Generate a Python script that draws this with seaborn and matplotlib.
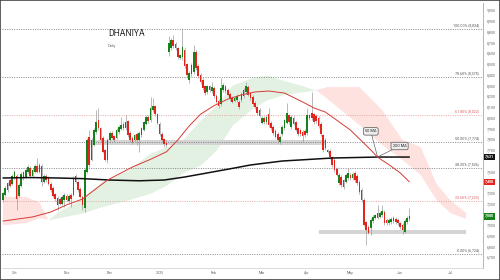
import matplotlib
matplotlib.use("Agg")
import matplotlib.pyplot as plt
import matplotlib.transforms as mtrans
from matplotlib.patches import Rectangle
import seaborn as sns
import numpy as np
import pandas as pd

# ---------------- data ----------------
opens = [7230,7280,7325,7415,7380,7435,7455,7270,7360,7490,
         7445,7490,7530,7455,7490,7550,7490,7550,7400,7455,
         7435,7380,7345,7285,7185,7240,7195,7230,7270,7220,
         7280,7280,7455,7400,7335,7260,7155,7490,7820,7605,
         7745,7865,7975,7900,7810,7695,7605,7790,7855,7825,
         7810,7865,7890,7940,7900,7965,7855,7810,7790,7845,
         7790,7835,7885,7940,8005,7975,8070,8105,8030,7940,
         7850,7795,7760,8610,8645,8720,8685,8645,8555,8560,
         8630,8495,8350,8405,8420,8610,8480,8395,8350,8290,
         8235,8290,8245,8275,8200,8155,8125,8255,8290,8255,
         8220,8180,8155,8160,8145,8160,8200,8235,8285,8225,
         8190,8135,8095,8070,7950,7995,7955,8030,7950,7910,
         7875,7845,7770,7845,7900,7950,8020,7910,7995,7955,
         7900,7885,7865,7875,7855,8020,8040,8030,8015,7995,
         7940,7835,7790,7680,7690,7630,7605,7520,7390,7445,
         7415,7400,7435,7465,7435,7485,7455,7400,7325,7230,
         7025,6980,6970,7035,7065,7110,7075,7090,7120,7045,
         7015,7025,7035,7055,7045,7015,7000,6935,7025,7055]
highs = [7310,7360,7400,7430,7470,7510,7470,7385,7490,7505,
         7525,7560,7545,7525,7565,7620,7575,7565,7470,7470,
         7450,7395,7360,7300,7265,7255,7275,7295,7285,7285,
         7295,7450,7470,7415,7350,7275,7525,7805,7885,7805,
         7900,8070,8090,7915,7825,7710,7805,7870,7870,7840,
         7900,7925,8005,7955,8020,7980,7870,7825,7850,7860,
         7870,7915,7970,8020,8020,8190,8180,8120,8045,7955,
         7865,7810,7790,8760,8740,8765,8700,8660,8595,8830,
         8645,8510,8430,8505,8675,8625,8495,8410,8365,8305,
         8305,8305,8330,8290,8215,8170,8365,8320,8305,8270,
         8235,8195,8195,8215,8160,8235,8270,8330,8300,8240,
         8205,8150,8110,8085,8010,8010,8020,8090,7965,7925,
         7890,7860,7835,7925,7990,8135,8035,8020,8010,7970,
         7915,7900,7880,7890,8090,8035,8235,8045,8030,8010,
         7955,7850,7805,7710,7705,7645,7620,7535,7480,7460,
         7430,7480,7530,7480,7490,7500,7470,7415,7340,7245,
         7040,6995,7060,7090,7105,7185,7125,7185,7135,7060,
         7060,7070,7080,7070,7060,7030,7015,7050,7080,7160]
lows = [7215,7270,7310,7350,7370,7425,7140,7255,7350,7420,
        7435,7480,7440,7445,7480,7480,7480,7360,7385,7400,
        7370,7310,7255,7225,7140,7180,7185,7165,7215,7205,
        7165,7265,7385,7310,7245,7140,7120,7480,7540,7590,
        7730,7850,7885,7775,7665,7590,7575,7775,7795,7775,
        7795,7850,7880,7885,7885,7820,7775,7755,7775,7745,
        7680,7820,7870,7925,7950,7960,8055,8015,7935,7830,
        7775,7720,7720,8570,8630,8650,8630,8545,8540,8535,
        8465,8380,8320,8390,8405,8445,8370,8315,8260,8210,
        8220,8240,8230,8185,8130,8090,8110,8240,8230,8195,
        8155,8130,8140,8145,8080,8145,8185,8220,8195,8165,
        8110,8080,8025,8000,7935,7940,7940,7915,7885,7840,
        7805,7760,7755,7830,7885,7935,7940,7895,7925,7870,
        7830,7830,7770,7820,7840,7980,7980,7940,7950,7905,
        7830,7680,7700,7665,7615,7540,7495,7450,7375,7355,
        7335,7385,7420,7420,7420,7400,7375,7290,7215,6985,
        6810,6910,6905,7020,7050,7050,7060,7075,7000,7000,
        7000,7010,7020,7010,7000,6965,6915,6920,7010,7040]
closes = [7295,7345,7390,7360,7455,7490,7240,7370,7475,7435,
          7510,7540,7455,7510,7550,7490,7555,7400,7455,7415,
          7380,7325,7270,7240,7250,7195,7260,7280,7230,7270,
          7240,7435,7400,7325,7260,7185,7510,7790,7555,7790,
          7885,7955,7900,7790,7680,7605,7790,7855,7810,7790,
          7885,7910,7930,7900,7955,7835,7790,7770,7835,7790,
          7855,7900,7955,8005,7965,8090,8105,8030,7950,7845,
          7790,7750,7745,8695,8720,8665,8645,8560,8580,8655,
          8480,8395,8415,8490,8610,8460,8385,8330,8275,8225,
          8290,8255,8285,8200,8145,8105,8275,8300,8245,8210,
          8170,8145,8180,8200,8095,8220,8255,8290,8210,8180,
          8125,8095,8040,8015,7995,7955,8005,7930,7900,7855,
          7820,7790,7820,7910,7975,8040,7955,8005,7940,7885,
          7845,7845,7825,7835,8020,7995,7995,7955,7965,7920,
          7845,7695,7715,7695,7630,7555,7510,7465,7465,7370,
          7350,7465,7485,7435,7475,7415,7390,7305,7230,7000,
          6950,6925,7045,7075,7090,7065,7110,7130,7015,7015,
          7045,7055,7065,7025,7015,6980,6950,7035,7065,7080]

ma50_idx = [0, 13, 21, 28, 35, 46, 57, 65, 72, 77, 82, 87, 93, 99, 105, 111,
            117, 124, 132, 137, 142, 146, 153, 158, 162, 165, 170, 175, 179]
ma50 = [7035, 7073, 7119, 7185, 7240, 7417, 7538, 7610, 7680, 7790, 7920, 8030,
        8110, 8170, 8210, 8237, 8246, 8227, 8144, 8088, 8050, 7990, 7883, 7780,
        7697, 7630, 7560, 7483, 7400]
ma200_idx = [0, 12, 24, 35, 47, 60, 71, 80, 90, 102, 109, 123, 131, 145, 165, 179]
ma200 = [7436, 7440, 7436, 7430, 7417, 7410, 7417, 7445, 7483, 7529, 7557,
         7594, 7604, 7622, 7631, 7631]

cloud_idx = [0, 10, 16, 20, 24, 35, 43, 55, 65, 72, 79, 87, 94, 101, 109, 116,
             123, 131, 138, 143, 157, 167, 176, 184, 191, 197, 204]
span_a = [6995, 7015, 7060, 7050, 7119, 7250, 7390, 7510, 7669, 7725, 7790, 7976,
          8116, 8302, 8367, 8395, 8348, 8302, 8252, 8171, 7929, 7743, 7604, 7464,
          7231, 7110, 7055]
span_b = [7260, 7260, 7210, 7045, 7064, 7110, 7166, 7231, 7296, 7370, 7483, 7557,
          7697, 7929, 8069, 8162, 8209, 8237, 8255, 8283, 8283, 8069, 7790, 7725,
          7380, 7231, 7110]

fib_levels = [8824, 8375, 8022, 7774, 7526, 7220, 6724]
fib_labels = ["100.00% (8,824)", "78.60% (8,375)", "61.80% (8,022)",
              "50.00% (7,774)", "38.20% (7,526)", "23.60% (7,220)", "0.00% (6,724)"]
fib_red = [False, False, True, False, False, True, False]

zone_start = [37, 139]
zone_end = [142, 204]
zone_low = [7745, 6915]
zone_high = [7790, 6950]

month_idx = [5, 28, 47, 69, 93, 114, 134, 153, 175, 197]
month_labels = ["Oct", "Nov", "Dec", "2025", "Feb", "Mar", "Apr", "May", "Jun", "Jul"]

last_200 = 7631
last_50 = 7400
last_close = 7080

# ---------------- styling ----------------
sns.set_theme(style="white")
plt.rcParams['font.family'] = ['Roboto', 'DejaVu Sans']

GREEN = "#16801a"
RED = "#e5231d"
WICK = "#9c9c9c"

df = pd.DataFrame({"open": opens, "high": highs, "low": lows, "close": closes})
df["idx"] = np.arange(len(df))
df["up"] = df["close"] >= df["open"]

fig = plt.figure(figsize=(5, 2.8), dpi=100)
ax = fig.add_axes([0.004, 0.043, 0.962, 0.946])
ax.set_facecolor("white")

# Ichimoku cloud
ca = np.array(span_a, float)
cb = np.array(span_b, float)
ax.fill_between(cloud_idx, ca, cb, where=ca >= cb, interpolate=True,
                color="#e2f1e2", lw=0, zorder=1)
ax.fill_between(cloud_idx, ca, cb, where=ca < cb, interpolate=True,
                color="#fde2e0", lw=0, zorder=1)

# support zones
for s, e, lo, hi in zip(zone_start, zone_end, zone_low, zone_high):
    ax.add_patch(Rectangle((s, lo), e - s, hi - lo, color="#d4d4d4", lw=0, zorder=2))

# fibonacci lines
for lvl, lab, isred in zip(fib_levels, fib_labels, fib_red):
    c = "#e59a9a" if isred else "#777777"
    tc = "#e06060" if isred else "#555555"
    ax.axhline(lvl, color=c, lw=0.6, ls=(0, (1.2, 1.6)), zorder=2)
    ax.text(209.8, lvl + 18, lab, ha="right", va="bottom", fontsize=2.6, color=tc, zorder=6)

# candles
ax.vlines(df["idx"], df["low"], df["high"], color=WICK, lw=0.5, zorder=4)
body = (df["close"] - df["open"]).to_numpy(float)
body = np.where(np.abs(body) < 8, np.sign(body + 0.1) * 8, body)
ax.bar(df["idx"], body, bottom=df["open"], width=0.72,
       color=np.where(df["up"], GREEN, RED), lw=0, zorder=4)

# moving averages
sns.lineplot(x=ma200_idx, y=ma200, ax=ax, color="#111111", lw=1.1, zorder=5,
             estimator=None, sort=False)
sns.lineplot(x=ma50_idx, y=ma50, ax=ax, color="#d63a32", lw=0.7, zorder=5,
             estimator=None, sort=False)

# callouts
bb = dict(boxstyle="round,pad=0.45", fc="#ededed", ec="#555555", lw=0.5)
ap = dict(arrowstyle="-", color="#666666", lw=0.5, shrinkA=0, shrinkB=0)
ax.annotate("50 MA", xy=(165, last_200), xytext=(162, 7870), fontsize=2.8,
            ha="center", va="center", color="#222", bbox=bb, arrowprops=ap, zorder=7)
ax.annotate("200 MA", xy=(165, last_200), xytext=(174.7, 7734), fontsize=2.8,
            ha="center", va="center", color="#222", bbox=bb, arrowprops=ap, zorder=7)

# axes limits
ax.set_xlim(-0.45, 211.45)
ax.set_ylim(6598, 9065)

# right price axis
ax.yaxis.tick_right()
yt = list(range(6700, 9001, 100))
hidden = {7600, 7400, 7100}
ax.set_yticks(yt)
ax.set_yticklabels(["" if v in hidden else f"{v:,}" for v in yt])
ax.tick_params(axis="y", labelsize=2.6, length=0, pad=3, colors="#666666")
ax.set_xticks(month_idx)
ax.set_xticklabels(month_labels)
ax.tick_params(axis="x", labelsize=2.6, length=0, pad=2.5, colors="#666666")
ax.grid(False)

for side in ["left", "top"]:
    ax.spines[side].set_visible(False)
ax.spines["right"].set_color("#aaaaaa")
ax.spines["right"].set_linewidth(0.6)
ax.spines["bottom"].set_color("#cccccc")
ax.spines["bottom"].set_linewidth(0.5)

# price boxes on right axis
trans = mtrans.blended_transform_factory(ax.transAxes, ax.transData)
for val, col in [(last_200, "#111111"), (last_50, "#e5231d"), (last_close, "#16801a")]:
    ax.text(1.004, val, f"{val:,}", transform=trans, ha="left", va="center",
            fontsize=2.6, color="white", fontweight="bold", clip_on=False, zorder=8,
            bbox=dict(boxstyle="square,pad=0.35", fc=col, ec="none"))

# title
fig.text(108 / 500, 1 - 34 / 280, "DHANIYA", fontsize=6.2, color="#2a2a2a",
         ha="left", va="center")
fig.text(108 / 500, 1 - 46.5 / 280, "Daily", fontsize=2.8, color="#777777",
         ha="left", va="center")

# outer frame
fig.patches.append(Rectangle((0, 0), 1, 1, transform=fig.transFigure, fill=False,
                             ec="#444444", lw=1.2, zorder=10))
ax.add_artist(Rectangle((0, 0), 1, 1, transform=fig.transFigure, fill=False,
                        ec="#444444", lw=0, zorder=0))

fig.savefig("out.png", dpi=100)
